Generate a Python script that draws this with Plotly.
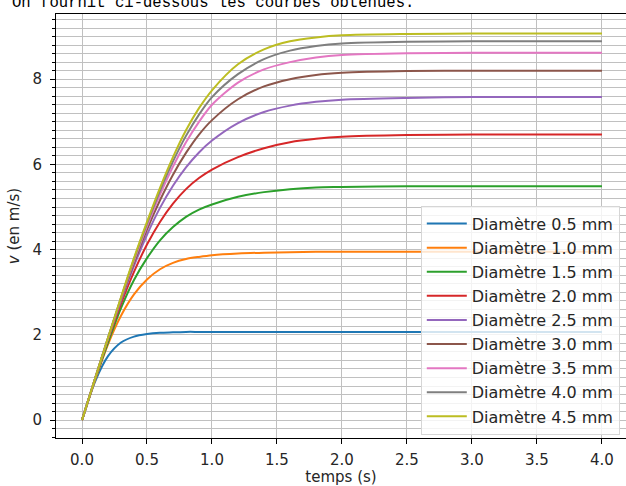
import plotly.graph_objects as go

# time samples (s)
temps = [0, 0.1, 0.2, 0.3, 0.4, 0.5, 0.6, 0.7, 0.8, 0.9, 1.0, 1.2, 1.4, 1.6, 1.8, 2.0, 2.5, 3.0, 4.0]

# velocities (m/s)
v_05 = [0, 0.90, 1.50, 1.82, 1.96, 2.02, 2.05, 2.06, 2.07, 2.07, 2.07, 2.07, 2.07, 2.07, 2.07, 2.07, 2.07, 2.07, 2.07]
v_10 = [0, 0.93, 1.78, 2.45, 2.95, 3.30, 3.54, 3.69, 3.78, 3.83, 3.87, 3.91, 3.93, 3.94, 3.95, 3.95, 3.95, 3.95, 3.95]
v_15 = [0, 0.95, 1.82, 2.63, 3.29, 3.80, 4.22, 4.53, 4.77, 4.94, 5.06, 5.24, 5.35, 5.42, 5.46, 5.47, 5.49, 5.49, 5.49]
v_20 = [0, 0.96, 1.88, 2.73, 3.48, 4.12, 4.65, 5.08, 5.42, 5.68, 5.88, 6.17, 6.38, 6.52, 6.60, 6.65, 6.69, 6.70, 6.70]
v_25 = [0, 0.97, 1.91, 2.80, 3.62, 4.35, 4.98, 5.50, 5.93, 6.28, 6.56, 6.97, 7.23, 7.38, 7.47, 7.52, 7.56, 7.58, 7.58]
v_30 = [0, 0.97, 1.92, 2.83, 3.69, 4.47, 5.16, 5.76, 6.27, 6.70, 7.04, 7.53, 7.83, 8.00, 8.10, 8.15, 8.19, 8.20, 8.20]
v_35 = [0, 0.97, 1.92, 2.85, 3.74, 4.55, 5.29, 5.95, 6.52, 7.00, 7.40, 7.92, 8.23, 8.40, 8.51, 8.57, 8.61, 8.62, 8.62]
v_40 = [0, 0.97, 1.93, 2.87, 3.78, 4.61, 5.38, 6.07, 6.67, 7.17, 7.58, 8.12, 8.47, 8.67, 8.78, 8.84, 8.88, 8.89, 8.89]
v_45 = [0, 0.97, 1.93, 2.88, 3.80, 4.65, 5.45, 6.17, 6.80, 7.32, 7.74, 8.35, 8.70, 8.89, 8.98, 9.03, 9.06, 9.07, 9.07]

diametres = ["0.5", "1.0", "1.5", "2.0", "2.5", "3.0", "3.5", "4.0", "4.5"]
series = [v_05, v_10, v_15, v_20, v_25, v_30, v_35, v_40, v_45]
couleurs = ["#1f77b4", "#ff7f0e", "#2ca02c", "#d62728", "#9467bd",
            "#8c564b", "#e377c2", "#7f7f7f", "#bcbd22"]

x_ticks = [0.0, 0.5, 1.0, 1.5, 2.0, 2.5, 3.0, 3.5, 4.0]
y_ticks = [0, 2, 4, 6, 8]

fig = go.Figure()
for i, (d, v, c) in enumerate(zip(diametres, series, couleurs)):
    fig.add_trace(go.Scatter(
        x=temps, y=v, mode="lines", name=f"Diamètre {d} mm",
        line=dict(color=c, width=2, shape="spline", smoothing=0.8),
        legendgroup=f"g{i}",
    ))

FONT = "DejaVu Sans"
grid = "#c0c0c0"

fig.update_layout(
    width=626, height=486,
    margin=dict(l=56, r=0, t=14, b=48, autoexpand=False),
    paper_bgcolor="white", plot_bgcolor="white",
    font=dict(family=FONT, size=15, color="#262626"),
    showlegend=True,
    legend=dict(
        xref="paper", yref="paper",
        x=0.640, y=0.548, xanchor="left", yanchor="top",
        bgcolor="rgba(255,255,255,0.8)", bordercolor="#d6d6d6", borderwidth=1,
        font=dict(family=FONT, size=16, color="#262626"),
        tracegroupgap=0.3, itemwidth=40,
    ),
    xaxis=dict(
        range=[-0.2, 4.185], tickmode="array", tickvals=x_ticks,
        ticktext=[f"{t:.1f}" for t in x_ticks],
        showgrid=True, gridcolor=grid, gridwidth=1,
        showline=True, linecolor="black", linewidth=1, mirror=True,
        ticks="outside", ticklen=5, tickcolor="black", ticklabelstandoff=3,
        zeroline=False, automargin=False,
        title=dict(text="temps (s)", font=dict(family=FONT, size=15), standoff=6),
    ),
    yaxis=dict(
        range=[-0.42, 9.53], tickmode="array", tickvals=y_ticks,
        showgrid=True, gridcolor=grid, gridwidth=1,
        showline=True, linecolor="black", linewidth=1, mirror=False,
        ticks="outside", ticklen=5, tickcolor="black", ticklabelstandoff=5,
        zeroline=False, automargin=False,
        minor=dict(dtick=0.2, tick0=0, showgrid=True, gridcolor=grid, gridwidth=1,
                   ticks="outside", ticklen=3, tickcolor="black"),
        title=dict(text="<i>v</i> (en m/s)", font=dict(family=FONT, size=15), standoff=9),
    ),
    annotations=[dict(
        text="On fournit ci-dessous les courbes obtenues.",
        xref="paper", yref="paper", x=-0.0807, y=1.001,
        xanchor="left", yanchor="bottom", showarrow=False,
        font=dict(family="Liberation Mono", size=15.6, color="black"),
    )],
)

fig.write_html("out.html", config={"displayModeBar": False},
               post_script="document.body.style.margin='0';")
